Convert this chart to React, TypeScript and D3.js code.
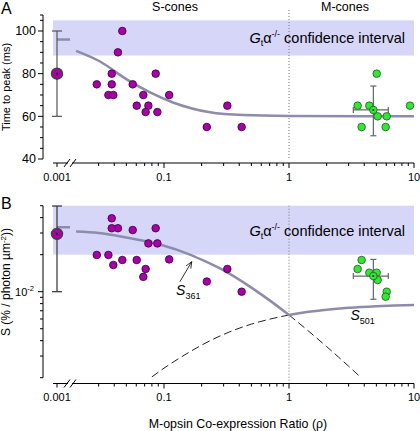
import React from "react";
import * as d3 from "d3";

const W = 420;
const H = 431;

// ---- data ----
// S-cones (individual cells)
const sRho = [0.0464, 0.0428, 0.0382, 0.0382, 0.0858, 0.029, 0.0562, 0.0359, 0.0393, 0.0683, 0.11, 0.0605, 0.075, 0.0713, 0.0885, 0.22, 0.321, 0.418];
const sTtp = [100, 90, 80, 75, 80, 75, 75, 70, 70, 70, 70, 65, 65, 62, 62, 55, 65, 55];
const sSens = [0.0181, 0.0328, 0.0395, 0.0328, 0.0328, 0.0199, 0.0317, 0.0199, 0.0165, 0.0132, 0.0183, 0.0181, 0.0247, 0.0153, 0.0247, 0.0121, 0.0153, 0.01];
// M-cones (individual cells)
const mRho = [5.03, 3.54, 4.39, 9.29, 5.12, 6.05, 3.81, 5.93];
const mTtp = [80, 65, 65, 65, 60, 60, 55, 55];
const mSens = [0.01427, 0.0153, 0.01427, NaN, 0.01245, 0.01, 0.0181, 0.00911];
// means with error bars
const sMean = { rho: 0.001, ttp: 80, ttpLo: 60, ttpHi: 100, s: 0.0295, sLo: 0.01, sHi: 0.0497 };
const mMean = { rho: 4.73, rhoLo: 3.27, rhoHi: 6.23, ttp: 63, ttpLo: 50.9, ttpHi: 74.2, s: 0.0134, sLo: 0.00868, sHi: 0.0183 };
// fits
const ttpAt0 = 96;
const sensAt0 = 0.0334;
const ttpFitRho = [0.0198, 0.0308, 0.0506, 0.0774, 0.118, 0.233, 0.43, 1, 10];
const ttpFitVal = [90.7, 85.7, 77.2, 71.2, 66.5, 61.9, 60.6, 60.2, 60];
const s361Rho = [0.0198, 0.03, 0.05, 0.07, 0.1, 0.15, 0.2, 0.3, 0.5, 0.7, 1];
const s361Val = [0.0308, 0.03, 0.0276, 0.0258, 0.0236, 0.0206, 0.0182, 0.0149, 0.0108, 0.0085, 0.00647];
const s361DashRho = [1, 1.5, 2, 2.5, 3, 3.6];
const s361DashVal = [0.00647, 0.0046, 0.00358, 0.00293, 0.00248, 0.00209];
const s501Rho = [1, 1.5, 2, 3, 5, 7, 10];
const s501Val = [0.00647, 0.0069, 0.00714, 0.0074, 0.00762, 0.00772, 0.0078];
const s501DashRho = [0.08, 0.1, 0.15, 0.2, 0.3, 0.5, 0.7, 1];
const s501DashVal = [0.00203, 0.00239, 0.00311, 0.00368, 0.0045, 0.00545, 0.00598, 0.00647];
// confidence intervals
const bandA = [88.5, 105];
const bandB = [0.02, 0.05];
// ticks
const xMinor = [0.03, 0.04, 0.05, 0.06, 0.07, 0.08, 0.09, 0.2, 0.3, 0.4, 0.5, 0.6, 0.7, 0.8, 0.9, 2, 3, 4, 5, 6, 7, 8, 9];
const xMajor = [0.1, 1, 10];
const xLabels = ["0.1", "1", "10"];
const yATicks = [40, 45, 50, 55, 60, 65, 70, 75, 80, 85, 90, 95, 100, 105];
const yALabels = [40, 60, 80, 100];
const yBMinor = [0.002, 0.003, 0.004, 0.005, 0.006, 0.007, 0.008, 0.009, 0.02, 0.03, 0.04, 0.05];

// ---- layout ----
const FONT = "'Liberation Sans', Arial, Helvetica, sans-serif";
const MAG = "#a600a6";
const MAG_S = "#3a003a";
const GRN = "#33e633";
const GRN_S = "#1f5a1f";
const FIT = "#8d8dab";
const BAND = "#d6d6f8";
const AX = 43;
const breakX = 57;
const bandX0 = 53;

const xScale = d3.scaleLog().domain([0.01, 10]).range([39, 414]);
const xp = (r: number) => (r <= 0.001 ? breakX : xScale(r));
const yA = d3.scaleLinear().domain([40, 100]).range([159, 31]);
const yATop = 107.5;
const yB = d3.scaleLog().domain([0.002, 0.05]).range([377.7, 205.7]);
const axisAY = 163;
const axisBY = 383.5;

const lineA = d3.line<[number, number]>().x((d) => xScale(d[0])).y((d) => yA(d[1])).curve(d3.curveMonotoneX);
const lineB = d3.line<[number, number]>().x((d) => xScale(d[0])).y((d) => yB(d[1])).curve(d3.curveMonotoneX);
const zip = (a: number[], b: number[]) => a.map((v, i) => [v, b[i]] as [number, number]);

function XAxis({ y }: { y: number }) {
  const right = xScale.range()[1];
  return (
    <g stroke="#000" strokeWidth={1}>
      <line x1={breakX - 4} x2={68} y1={y} y2={y} />
      <line x1={72} x2={right} y1={y} y2={y} />
      <line x1={64} y1={y + 4} x2={70} y2={y - 4} />
      <line x1={70} y1={y + 4} x2={76} y2={y - 4} />
      <line x1={breakX} x2={breakX} y1={y} y2={y + 4} />
      {xMinor.map((t) => (
        <line key={t} x1={xScale(t)} x2={xScale(t)} y1={y} y2={y + 3} />
      ))}
      {xMajor.map((t) => (
        <line key={t} x1={xScale(t)} x2={xScale(t)} y1={y} y2={y + 5} />
      ))}
      <g stroke="none" fill="#000" fontSize={11} textAnchor="middle" fontFamily={FONT}>
        <text x={breakX} y={y + 17.5}>0.001</text>
        {xMajor.map((t, i) => (
          <text key={t} x={xScale(t)} y={y + 17.5}>{xLabels[i]}</text>
        ))}
      </g>
    </g>
  );
}

function ConfText({ y }: { y: number }) {
  return (
    <text x={405} y={y} fontSize={14.5} textAnchor="end" fontFamily={FONT} fill="#000">
      <tspan fontStyle="italic">G</tspan>
      <tspan fontSize={9} dy={3}>t</tspan>
      <tspan dy={-3}>α</tspan>
      <tspan fontSize={9} dy={-6}>-/-</tspan>
      <tspan dy={6}> confidence interval</tspan>
    </text>
  );
}

export default function App() {
  const tip = { x: xScale(0.1667), y: yB(0.01753) };
  const tail = { x: xScale(0.134), y: yB(0.01206) };
  const ang = Math.atan2(tip.y - tail.y, tip.x - tail.x);
  const ah = 7;
  const a1 = { x: tip.x - ah * Math.cos(ang - 0.4), y: tip.y - ah * Math.sin(ang - 0.4) };
  const a2 = { x: tip.x - ah * Math.cos(ang + 0.4), y: tip.y - ah * Math.sin(ang + 0.4) };

  return (
    <svg width={W} height={H} style={{ position: "absolute", left: 0, top: 0, background: "#fff" }} fontFamily={FONT}>
      {/* ================= Panel A ================= */}
      <rect x={bandX0} y={yA(bandA[1])} width={xScale(10) - bandX0} height={yA(bandA[0]) - yA(bandA[1])} fill={BAND} />
      <line x1={xScale(1)} x2={xScale(1)} y1={10} y2={yA(40)} stroke="#777" strokeWidth={1} strokeDasharray="1,2" />
      <ConfText y={43.3} />
      <text x={175} y={10.5} fontSize={12.5} textAnchor="middle">S-cones</text>
      <text x={345} y={10.5} fontSize={12.5} textAnchor="middle">M-cones</text>
      <text x={1} y={13.5} fontSize={16}>A</text>

      {/* y axis */}
      <g stroke="#000" strokeWidth={1}>
        <line x1={AX} x2={AX} y1={yA(40)} y2={yA(yATop)} />
        {yATicks.map((t) => (
          <line key={t} x1={AX - (t % 20 === 0 ? 5 : 3)} x2={AX} y1={yA(t)} y2={yA(t)} />
        ))}
        <line x1={AX - 3} x2={AX} y1={yA(yATop)} y2={yA(yATop)} />
      </g>
      {yALabels.map((t) => (
        <text key={t} x={36} y={yA(t)} dy="0.35em" fontSize={12.5} textAnchor="end">{t}</text>
      ))}
      <text transform={`translate(10,87) rotate(-90)`} fontSize={11} textAnchor="middle">Time to peak (ms)</text>
      <XAxis y={axisAY} />

      {/* fit */}
      <line x1={breakX} x2={breakX + 13} y1={yA(ttpAt0)} y2={yA(ttpAt0)} stroke={FIT} strokeWidth={2.5} />
      <path d={lineA(zip(ttpFitRho, ttpFitVal)) || ""} fill="none" stroke={FIT} strokeWidth={2.5} />

      {/* S mean */}
      <g stroke="#555" strokeWidth={1.2}>
        <line x1={xp(sMean.rho)} x2={xp(sMean.rho)} y1={yA(sMean.ttpLo)} y2={yA(sMean.ttpHi)} />
        <line x1={xp(sMean.rho) - 5} x2={xp(sMean.rho) + 5} y1={yA(sMean.ttpLo)} y2={yA(sMean.ttpLo)} />
        <line x1={xp(sMean.rho) - 5} x2={xp(sMean.rho) + 5} y1={yA(sMean.ttpHi)} y2={yA(sMean.ttpHi)} />
      </g>
      <circle cx={xp(sMean.rho)} cy={yA(sMean.ttp)} r={5.5} fill={MAG} stroke="#444" strokeWidth={1.5} />
      <circle cx={xp(sMean.rho)} cy={yA(sMean.ttp)} r={1.1} fill="#000" />

      {sRho.map((r, i) => (
        <circle key={i} cx={xScale(r)} cy={yA(sTtp[i])} r={3.8} fill={MAG} stroke={MAG_S} strokeWidth={0.8} />
      ))}
      {mRho.map((r, i) => (
        <circle key={i} cx={xScale(r)} cy={yA(mTtp[i])} r={3.8} fill={GRN} stroke={GRN_S} strokeWidth={0.8} />
      ))}
      <g stroke="#666" strokeWidth={1.2}>
        <line x1={xScale(mMean.rhoLo)} x2={xScale(mMean.rhoHi)} y1={yA(mMean.ttp)} y2={yA(mMean.ttp)} />
        <line x1={xScale(mMean.rhoLo)} x2={xScale(mMean.rhoLo)} y1={yA(mMean.ttp) - 3} y2={yA(mMean.ttp) + 3} />
        <line x1={xScale(mMean.rhoHi)} x2={xScale(mMean.rhoHi)} y1={yA(mMean.ttp) - 3} y2={yA(mMean.ttp) + 3} />
        <line x1={xScale(mMean.rho)} x2={xScale(mMean.rho)} y1={yA(mMean.ttpLo)} y2={yA(mMean.ttpHi)} />
        <line x1={xScale(mMean.rho) - 3} x2={xScale(mMean.rho) + 3} y1={yA(mMean.ttpLo)} y2={yA(mMean.ttpLo)} />
        <line x1={xScale(mMean.rho) - 3} x2={xScale(mMean.rho) + 3} y1={yA(mMean.ttpHi)} y2={yA(mMean.ttpHi)} />
      </g>
      <circle cx={xScale(mMean.rho)} cy={yA(mMean.ttp)} r={3.8} fill={GRN} stroke={GRN_S} strokeWidth={0.8} />
      <circle cx={xScale(mMean.rho)} cy={yA(mMean.ttp)} r={1} fill="#000" />

      {/* ================= Panel B ================= */}
      <rect x={bandX0} y={yB(bandB[1])} width={xScale(10) - bandX0} height={yB(bandB[0]) - yB(bandB[1])} fill={BAND} />
      <line x1={xScale(1)} x2={xScale(1)} y1={yB(0.05)} y2={axisBY} stroke="#777" strokeWidth={1} strokeDasharray="1,2" />
      <ConfText y={235.7} />
      <text x={1} y={208.5} fontSize={16}>B</text>

      <g stroke="#000" strokeWidth={1}>
        <line x1={AX} x2={AX} y1={yB(0.002)} y2={yB(0.05)} />
        {yBMinor.map((t) => (
          <line key={t} x1={AX - 3} x2={AX} y1={yB(t)} y2={yB(t)} />
        ))}
        <line x1={AX - 5} x2={AX} y1={yB(0.01)} y2={yB(0.01)} />
      </g>
      <text x={34} y={yB(0.01)} dy="0.35em" fontSize={11} textAnchor="end">
        10<tspan fontSize={7.5} dy={-4.5}>-2</tspan>
      </text>
      <text transform={`translate(10,282) rotate(-90)`} fontSize={12} textAnchor="middle">
        S (% / photon µm<tspan fontSize={8} dy={-4}>-2</tspan><tspan dy={4}>))</tspan>
      </text>
      <XAxis y={axisBY} />

      {/* fits */}
      <path d={lineB(zip(s501DashRho, s501DashVal)) || ""} fill="none" stroke="#222" strokeWidth={1} strokeDasharray="8,4" />
      <path d={lineB(zip(s361DashRho, s361DashVal)) || ""} fill="none" stroke="#222" strokeWidth={1} strokeDasharray="8,4" />
      <line x1={breakX} x2={breakX + 13} y1={yB(sensAt0)} y2={yB(sensAt0)} stroke={FIT} strokeWidth={2.5} />
      <path d={lineB(zip(s361Rho, s361Val)) || ""} fill="none" stroke={FIT} strokeWidth={2.5} />
      <path d={lineB(zip(s501Rho, s501Val)) || ""} fill="none" stroke={FIT} strokeWidth={2.5} />

      {/* S361 label + arrow */}
      <g stroke="#000" strokeWidth={0.8} fill="none">
        <line x1={tail.x} y1={tail.y} x2={tip.x} y2={tip.y} />
        <polyline points={`${a1.x},${a1.y} ${tip.x},${tip.y} ${a2.x},${a2.y}`} />
      </g>
      <text x={xScale(0.125)} y={yB(0.0094)} fontSize={14}>
        <tspan fontStyle="italic">S</tspan>
        <tspan fontSize={9} dy={4}>361</tspan>
      </text>
      <text x={xScale(3.1)} y={yB(0.0059)} fontSize={14}>
        <tspan fontStyle="italic">S</tspan>
        <tspan fontSize={9} dy={4}>501</tspan>
      </text>

      {/* S mean */}
      <g stroke="#333" strokeWidth={1.2}>
        <line x1={xp(sMean.rho)} x2={xp(sMean.rho)} y1={yB(sMean.sLo)} y2={yB(sMean.sHi)} />
        <line x1={xp(sMean.rho) - 5} x2={xp(sMean.rho) + 5} y1={yB(sMean.sLo)} y2={yB(sMean.sLo)} />
        <line x1={xp(sMean.rho) - 5} x2={xp(sMean.rho) + 5} y1={yB(sMean.sHi)} y2={yB(sMean.sHi)} />
      </g>
      <circle cx={xp(sMean.rho)} cy={yB(sMean.s)} r={5.5} fill={MAG} stroke="#444" strokeWidth={1.5} />
      <circle cx={xp(sMean.rho)} cy={yB(sMean.s)} r={1.1} fill="#000" />

      {sRho.map((r, i) => (
        <circle key={i} cx={xScale(r)} cy={yB(sSens[i])} r={3.8} fill={MAG} stroke={MAG_S} strokeWidth={0.8} />
      ))}
      {mRho.map((r, i) =>
        isNaN(mSens[i]) ? null : (
          <circle key={i} cx={xScale(r)} cy={yB(mSens[i])} r={3.8} fill={GRN} stroke={GRN_S} strokeWidth={0.8} />
        )
      )}
      <g stroke="#666" strokeWidth={1.2}>
        <line x1={xScale(mMean.rhoLo)} x2={xScale(mMean.rhoHi)} y1={yB(mMean.s)} y2={yB(mMean.s)} />
        <line x1={xScale(mMean.rhoLo)} x2={xScale(mMean.rhoLo)} y1={yB(mMean.s) - 3} y2={yB(mMean.s) + 3} />
        <line x1={xScale(mMean.rhoHi)} x2={xScale(mMean.rhoHi)} y1={yB(mMean.s) - 3} y2={yB(mMean.s) + 3} />
        <line x1={xScale(mMean.rho)} x2={xScale(mMean.rho)} y1={yB(mMean.sLo)} y2={yB(mMean.sHi)} />
        <line x1={xScale(mMean.rho) - 3} x2={xScale(mMean.rho) + 3} y1={yB(mMean.sLo)} y2={yB(mMean.sLo)} />
        <line x1={xScale(mMean.rho) - 3} x2={xScale(mMean.rho) + 3} y1={yB(mMean.sHi)} y2={yB(mMean.sHi)} />
      </g>
      <circle cx={xScale(mMean.rho)} cy={yB(mMean.s)} r={3.8} fill={GRN} stroke={GRN_S} strokeWidth={0.8} />
      <circle cx={xScale(mMean.rho)} cy={yB(mMean.s)} r={1} fill="#000" />

      <text x={238} y={428} fontSize={12.4} textAnchor="middle">M-opsin Co-expression Ratio (ρ)</text>
    </svg>
  );
}
